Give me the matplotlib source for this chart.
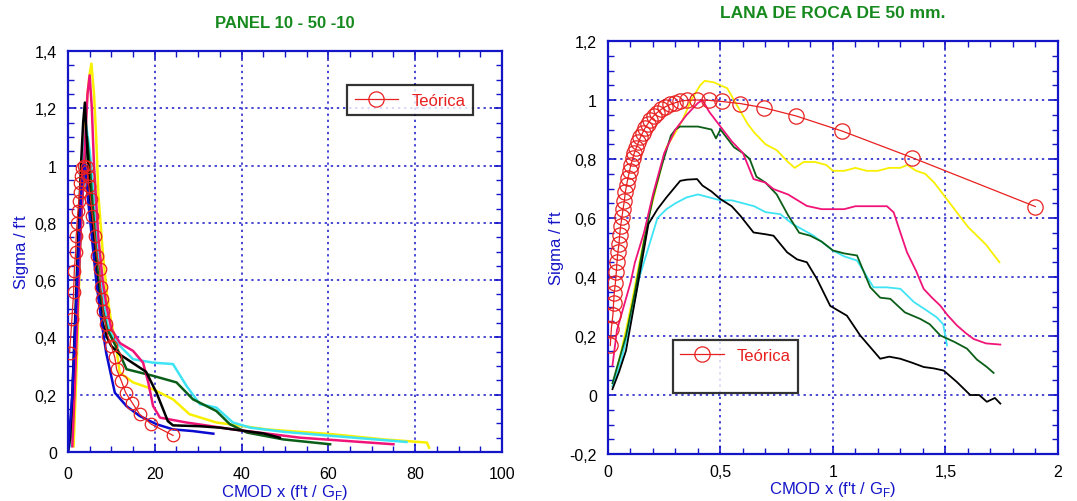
import matplotlib
matplotlib.use('Agg')
import matplotlib.pyplot as plt
from matplotlib.ticker import MultipleLocator, FuncFormatter
from matplotlib.lines import Line2D

plt.rcParams['font.family'] = ['Liberation Sans', 'DejaVu Sans']
plt.rcParams['mathtext.fontset'] = 'custom'
plt.rcParams['mathtext.rm'] = 'Liberation Sans'

# ---- left panel: PANEL 10 - 50 -10 ----
l_teo_x = [0.38, 0.92, 1.3, 1.46, 1.77, 1.9, 2.1, 2.3, 2.5, 2.7, 2.85, 3.1, 3.3, 3.8, 4.4, 4.6,
           4.8, 5.2, 5.6, 6.2, 6.7, 7.3, 7.5, 7.9, 8.1, 8.7, 9.2, 10.0, 10.8, 11.2, 12.3, 13.3,
           14.8, 16.5, 19.2, 24.2]
l_teo_y = [0.347, 0.466, 0.557, 0.633, 0.697, 0.753, 0.80, 0.843, 0.878, 0.909, 0.94, 0.965,
           0.99, 1.0, 0.995, 0.965, 0.93, 0.884, 0.825, 0.755, 0.685, 0.64, 0.575, 0.534, 0.493,
           0.446, 0.405, 0.37, 0.33, 0.289, 0.248, 0.207, 0.172, 0.132, 0.097, 0.058]

l_blue_x = [0, 1, 2, 3, 3.5, 4, 4.5, 5.5, 6.5, 7.5, 8.8, 10.8, 13.5, 16.5, 20.4, 24.2, 28.8, 33.5]
l_blue_y = [0, 0.2, 0.55, 0.9, 1.0, 1.0, 0.9, 0.75, 0.6, 0.48, 0.347, 0.207, 0.16, 0.126, 0.097,
            0.079, 0.073, 0.064]

l_black_x = [0, 0.5, 1, 1.5, 2, 2.5, 3, 3.5, 3.9, 4.3, 5, 5.5, 6, 7, 8, 9, 10, 12, 15, 18, 20.4,
             21.9, 23, 24.2, 30.4, 35, 40, 45, 48.8]
l_black_y = [0, 0.05, 0.2, 0.4, 0.6, 0.8, 1.0, 1.15, 1.22, 1.1, 0.9, 0.8, 0.7, 0.55, 0.45, 0.4,
             0.37, 0.34, 0.31, 0.28, 0.207, 0.15, 0.108, 0.093, 0.09, 0.085, 0.075, 0.065, 0.05]

l_green_x = [0, 1, 2, 3, 3.8, 4.4, 5, 6, 7, 8, 9, 10, 12, 13.5, 19.6, 25, 28.8, 34.2, 37.3,
             41.2, 49.6, 60.4]
l_green_y = [0, 0.15, 0.45, 0.8, 1.0, 1.1, 1.0, 0.8, 0.6, 0.5, 0.43, 0.4, 0.34, 0.289, 0.266,
             0.243, 0.184, 0.143, 0.097, 0.068, 0.044, 0.027]

l_cyan_x = [0.5, 1, 1.5, 2, 2.5, 3, 3.5, 4.2, 5, 6, 7, 8, 9, 10, 12, 15, 19.6, 24.2, 27.3, 30.4,
            34.2, 38, 42, 50, 61, 70, 78]
l_cyan_y = [0.02, 0.1, 0.3, 0.5, 0.7, 0.9, 1.05, 1.14, 1.05, 0.9, 0.7, 0.55, 0.45, 0.41, 0.37,
            0.324, 0.312, 0.307, 0.231, 0.167, 0.155, 0.103, 0.085, 0.07, 0.056, 0.045, 0.035]

l_pink_x = [1, 1.5, 2, 2.5, 3, 3.5, 4, 4.5, 5, 5.5, 6, 7, 8, 9, 10, 12, 15, 17.3, 18.5, 19.6,
            21.2, 27.3, 38, 53.5, 75]
l_pink_y = [0.02, 0.2, 0.4, 0.6, 0.8, 0.95, 1.1, 1.25, 1.315, 1.2, 1.0, 0.75, 0.6, 0.5, 0.43,
            0.38, 0.353, 0.312, 0.243, 0.161, 0.12, 0.103, 0.079, 0.05, 0.027]

l_yellow_x = [1.3, 2, 2.5, 3, 3.5, 4, 4.5, 5, 5.4, 6, 6.5, 7, 8, 9, 10, 11, 11.9, 15, 19.6, 24.2,
              28, 34.2, 45.8, 61, 72.7, 82.7, 83.2]
l_yellow_y = [0.02, 0.3, 0.55, 0.8, 1.0, 1.15, 1.25, 1.32, 1.356, 1.25, 1.1, 0.9, 0.7, 0.55,
              0.45, 0.38, 0.278, 0.243, 0.219, 0.184, 0.132, 0.103, 0.079, 0.062, 0.044, 0.033,
              0.015]

# ---- right panel: LANA DE ROCA DE 50 mm. ----
r_teo_x = [0.0104, 0.015, 0.022, 0.025, 0.028, 0.033, 0.037, 0.04, 0.044, 0.049, 0.052, 0.056,
           0.062, 0.067, 0.073, 0.077, 0.083, 0.089, 0.096, 0.102, 0.11, 0.117, 0.126, 0.135,
           0.144, 0.154, 0.164, 0.176, 0.188, 0.203, 0.218, 0.236, 0.255, 0.277, 0.30, 0.321,
           0.351, 0.396, 0.447, 0.507, 0.588, 0.692, 0.836, 1.04, 1.351, 1.899]
r_teo_y = [0.168, 0.225, 0.272, 0.312, 0.346, 0.38, 0.416, 0.45, 0.484, 0.512, 0.542, 0.572,
           0.602, 0.63, 0.659, 0.687, 0.712, 0.736, 0.76, 0.781, 0.802, 0.82, 0.838, 0.856,
           0.873, 0.889, 0.904, 0.918, 0.932, 0.946, 0.957, 0.968, 0.977, 0.985, 0.991, 0.996,
           0.999, 1.0, 0.999, 0.995, 0.988, 0.974, 0.946, 0.895, 0.805, 0.639]

r_yellow_x = [0.02, 0.05, 0.08, 0.11, 0.14, 0.18, 0.22, 0.26, 0.3, 0.33, 0.37, 0.41, 0.43, 0.47,
              0.5, 0.53, 0.56, 0.59, 0.62, 0.65, 0.7, 0.75, 0.8, 0.83, 0.87, 0.92, 0.97, 1.0,
              1.05, 1.1, 1.15, 1.2, 1.25, 1.3, 1.33, 1.37, 1.41, 1.45, 1.48, 1.52, 1.56, 1.6,
              1.64, 1.68, 1.72, 1.74]
r_yellow_y = [0.03, 0.12, 0.22, 0.33, 0.45, 0.6, 0.72, 0.84, 0.89, 0.93, 1.0, 1.05, 1.065, 1.06,
              1.05, 1.04, 1.0, 0.96, 0.92, 0.89, 0.85, 0.83, 0.79, 0.77, 0.79, 0.79, 0.78, 0.76,
              0.76, 0.77, 0.76, 0.76, 0.77, 0.77, 0.78, 0.76, 0.75, 0.72, 0.69, 0.65, 0.61, 0.57,
              0.54, 0.51, 0.47, 0.45]

r_pink_x = [0.02, 0.04, 0.07, 0.1, 0.12, 0.16, 0.2, 0.25, 0.3, 0.35, 0.4, 0.42, 0.45, 0.5, 0.55,
            0.6, 0.647, 0.7, 0.736, 0.8, 0.884, 0.95, 1.0, 1.05, 1.1, 1.2, 1.24, 1.27, 1.3, 1.329,
            1.37, 1.403, 1.44, 1.477, 1.51, 1.551, 1.59, 1.625, 1.68, 1.744]
r_pink_y = [0.1, 0.22, 0.3, 0.38, 0.45, 0.55, 0.68, 0.82, 0.9, 0.95, 0.99, 1.0, 0.96, 0.91, 0.86,
            0.82, 0.732, 0.72, 0.698, 0.68, 0.641, 0.63, 0.63, 0.63, 0.64, 0.64, 0.64, 0.619,
            0.55, 0.484, 0.42, 0.36, 0.33, 0.303, 0.27, 0.236, 0.21, 0.19, 0.175, 0.171]

r_green_x = [0.02, 0.05, 0.08, 0.12, 0.16, 0.2, 0.24, 0.28, 0.3, 0.32, 0.4, 0.46, 0.48, 0.5, 0.53,
             0.56, 0.6, 0.63, 0.66, 0.7, 0.75, 0.8, 0.85, 0.899, 0.95, 1.0, 1.05, 1.107, 1.166,
             1.21, 1.255, 1.32, 1.388, 1.43, 1.477, 1.54, 1.596, 1.64, 1.684, 1.714]
r_green_y = [0.04, 0.12, 0.2, 0.35, 0.52, 0.67, 0.78, 0.88, 0.9, 0.91, 0.91, 0.9, 0.87, 0.9, 0.87,
             0.84, 0.82, 0.8, 0.74, 0.72, 0.68, 0.61, 0.55, 0.54, 0.52, 0.49, 0.48, 0.473, 0.365,
             0.33, 0.326, 0.28, 0.258, 0.24, 0.202, 0.18, 0.157, 0.12, 0.095, 0.075]

r_cyan_x = [0.02, 0.06, 0.1, 0.14, 0.18, 0.22, 0.26, 0.3, 0.35, 0.4, 0.45, 0.5, 0.55, 0.6, 0.65,
            0.7, 0.766, 0.82, 0.914, 0.999, 1.05, 1.107, 1.18, 1.24, 1.3, 1.36, 1.41, 1.46, 1.49,
            1.507]
r_cyan_y = [0.03, 0.12, 0.25, 0.4, 0.5, 0.6, 0.63, 0.65, 0.67, 0.68, 0.67, 0.66, 0.66, 0.65,
            0.64, 0.62, 0.613, 0.58, 0.54, 0.49, 0.47, 0.456, 0.365, 0.365, 0.36, 0.315, 0.29,
            0.264, 0.24, 0.168]

r_black_x = [0.02, 0.05, 0.08, 0.12, 0.15, 0.18, 0.22, 0.26, 0.321, 0.35, 0.396, 0.42, 0.46, 0.5,
             0.55, 0.588, 0.647, 0.7, 0.736, 0.796, 0.84, 0.884, 0.929, 0.988, 1.062, 1.121,
             1.21, 1.25, 1.299, 1.35, 1.403, 1.45, 1.492, 1.551, 1.61, 1.65, 1.684, 1.72, 1.744]
r_black_y = [0.02, 0.08, 0.15, 0.32, 0.45, 0.58, 0.63, 0.67, 0.726, 0.73, 0.732, 0.71, 0.69,
             0.664, 0.64, 0.608, 0.551, 0.545, 0.54, 0.484, 0.46, 0.45, 0.393, 0.302, 0.269,
             0.202, 0.123, 0.13, 0.123, 0.11, 0.095, 0.09, 0.083, 0.044, 0.0, 0.0, -0.023,
             -0.01, -0.029]

BLUE = '#1515c8'
RED = '#e82020'
GREEN_T = '#168a1e'
C_BLUE = '#0a0ad0'
C_BLACK = '#000000'
C_GREEN = '#0b5e18'
C_CYAN = '#3ee4f4'
C_PINK = '#f01478'
C_YELLOW = '#f8f000'


def comma(v, pos):
    s = '{:g}'.format(round(v, 6))
    return s.replace('.', ',')


def style_axes(ax, xmaj, xmin, ymaj, ymin, xtpad=10, xpad=2):
    for sp in ax.spines.values():
        sp.set_color(BLUE)
        sp.set_linewidth(1.6)
    ax.xaxis.set_major_locator(MultipleLocator(xmaj))
    ax.xaxis.set_minor_locator(MultipleLocator(xmin))
    ax.yaxis.set_major_locator(MultipleLocator(ymaj))
    ax.yaxis.set_minor_locator(MultipleLocator(ymin))
    ax.xaxis.set_major_formatter(FuncFormatter(comma))
    ax.yaxis.set_major_formatter(FuncFormatter(comma))
    ax.tick_params(which='both', direction='in', top=True, right=True, color=BLUE,
                   labelsize=11.5, labelcolor='black')
    ax.tick_params(which='major', length=6, width=1.2)
    ax.tick_params(which='minor', length=4, width=1)
    ax.tick_params(axis='x', which='major', pad=xtpad)
    ax.tick_params(axis='y', which='major', pad=8)
    ax.grid(True, which='major', color=BLUE, linestyle=(0, (1.5, 2.5)), linewidth=1.1)
    ax.set_axisbelow(True)
    ax.set_ylabel("Sigma / f't", color=BLUE, fontsize=12, labelpad=4)
    ax.set_xlabel(r"CMOD x (f't / G$_\mathrm{F}$)", color=BLUE, fontsize=12, labelpad=xpad)


fig = plt.figure(figsize=(10.77, 5.02), dpi=100)

# left
ax1 = fig.add_axes([0.0631, 0.0976, 0.403, 0.7988])
lw = 1.8
ax1.plot(l_yellow_x, l_yellow_y, color=C_YELLOW, lw=lw)
ax1.plot(l_cyan_x, l_cyan_y, color=C_CYAN, lw=lw)
ax1.plot(l_green_x, l_green_y, color=C_GREEN, lw=lw)
ax1.plot(l_pink_x, l_pink_y, color=C_PINK, lw=lw)
ax1.plot(l_black_x, l_black_y, color=C_BLACK, lw=lw)
ax1.plot(l_blue_x, l_blue_y, color=C_BLUE, lw=lw)
ax1.plot(l_teo_x, l_teo_y, color=RED, lw=0.9, marker='o', ms=9, mfc='none', mec=RED, mew=0.9,
         zorder=5)
ax1.set_xlim(0, 100)
ax1.set_ylim(0, 1.4)
style_axes(ax1, 20, 5, 0.2, 0.05, xtpad=10, xpad=1)
ax1.set_title('PANEL 10 - 50 -10', color=GREEN_T, fontsize=12, fontweight='bold', pad=17)
h = Line2D([], [], color=RED, lw=0.9, marker='o', ms=11, mfc='none', mec=RED, mew=0.9)
leg1 = ax1.legend([h], ['Teórica'], loc='upper left', bbox_to_anchor=(0.643, 0.915),
                  fancybox=False, frameon=True, fontsize=12, handlelength=2.6,
                  borderpad=0.45, labelcolor=RED, borderaxespad=0)
leg1.get_frame().set_edgecolor('black')
leg1.get_frame().set_linewidth(1.6)

# right
ax2 = fig.add_axes([0.5645, 0.0936, 0.4178, 0.8227])
lw2 = 1.3
ax2.plot(r_yellow_x, r_yellow_y, color=C_YELLOW, lw=lw2)
ax2.plot(r_cyan_x, r_cyan_y, color=C_CYAN, lw=lw2)
ax2.plot(r_green_x, r_green_y, color=C_GREEN, lw=lw2)
ax2.plot(r_pink_x, r_pink_y, color=C_PINK, lw=lw2)
ax2.plot(r_black_x, r_black_y, color=C_BLACK, lw=lw2)
ax2.plot(r_teo_x, r_teo_y, color=RED, lw=0.9, marker='o', ms=11, mfc='none', mec=RED, mew=0.9,
         zorder=5)
ax2.set_xlim(0, 2)
ax2.set_ylim(-0.2, 1.2)
style_axes(ax2, 0.5, 0.1, 0.2, 0.05, xtpad=7, xpad=0)
ax2.set_title('LANA DE ROCA DE 50 mm.', color=GREEN_T, fontsize=12.5, fontweight='bold', pad=17)
blank = Line2D([], [], color='none')
leg2 = ax2.legend([h, blank], ['Teórica', ' '], loc='upper left', bbox_to_anchor=(0.144, 0.276),
                  fancybox=False, frameon=True, fontsize=12, handlelength=2.6,
                  borderpad=0.45, labelcolor=RED, borderaxespad=0)
leg2.get_frame().set_edgecolor('black')
leg2.get_frame().set_linewidth(1.6)

fig.savefig('out.png', dpi=100)
